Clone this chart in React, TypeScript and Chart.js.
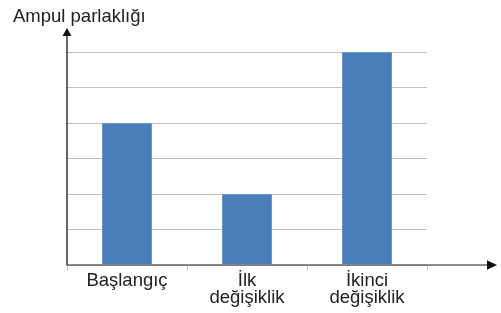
import React, { useEffect, useRef } from "react";
import { Chart, registerables } from "chart.js";

Chart.register(...registerables);

const categories: (string | string[])[] = ["Başlangıç", ["İlk", "değişiklik"], ["İkinci", "değişiklik"]];
const brightness: number[] = [4, 2, 6];
const yTitle = "Ampul parlaklığı";
const yMax = 6;

const FONT = "'Liberation Sans', Arial, sans-serif";

const arrowPlugin = {
  id: "arrows",
  afterDraw(chart: any) {
    const { ctx, chartArea } = chart;
    const { left, bottom, top, right } = chartArea;
    ctx.save();
    // y axis
    ctx.strokeStyle = "#333";
    ctx.lineWidth = 1.5;
    ctx.beginPath();
    ctx.moveTo(left, bottom + 0.5);
    ctx.lineTo(left, top - 17);
    ctx.stroke();
    ctx.fillStyle = "#111";
    ctx.beginPath();
    ctx.moveTo(left, top - 24);
    ctx.lineTo(left - 4.5, top - 16);
    ctx.lineTo(left + 4.5, top - 16);
    ctx.closePath();
    ctx.fill();
    // x axis
    ctx.strokeStyle = "#666";
    ctx.lineWidth = 1.5;
    ctx.beginPath();
    ctx.moveTo(left, bottom);
    ctx.lineTo(right + 61, bottom);
    ctx.stroke();
    ctx.fillStyle = "#111";
    ctx.beginPath();
    ctx.moveTo(right + 70, bottom);
    ctx.lineTo(right + 60, bottom - 4.7);
    ctx.lineTo(right + 60, bottom + 4.7);
    ctx.closePath();
    ctx.fill();
    // title
    ctx.fillStyle = "#222";
    ctx.font = `18.5px ${FONT}`;
    ctx.textBaseline = "alphabetic";
    ctx.textAlign = "left";
    ctx.fillText(yTitle, 13, 21.5);
    ctx.restore();
  },
};

export default function App() {
  const ref = useRef<HTMLCanvasElement | null>(null);
  useEffect(() => {
    if (!ref.current) return;
    const chart = new Chart(ref.current, {
      type: "bar",
      data: {
        labels: categories,
        datasets: [
          {
            data: brightness,
            backgroundColor: "#4a7ebb",
            borderColor: "#6b98cc",
            borderWidth: 1,
            categoryPercentage: 1,
            barPercentage: 50 / 120,
          },
        ],
      },
      options: {
        animation: false,
        responsive: false,
        maintainAspectRatio: false,
        layout: { padding: { left: 67, right: 74, top: 52, bottom: 0 } },
        plugins: { legend: { display: false }, tooltip: { enabled: false }, title: { display: false } },
        scales: {
          x: {
            grid: { drawOnChartArea: false, drawTicks: true, tickLength: 6, color: "#c8c8c8", offset: true },
            border: { display: false },
            ticks: {
              color: "#222",
              font: { family: FONT, size: 18.5, lineHeight: 0.9 },
              padding: 2,
              maxRotation: 0,
              autoSkip: false,
            },
            afterFit(scale: any) {
              scale.height = 48;
            },
          },
          y: {
            min: 0,
            max: yMax,
            ticks: { display: false, stepSize: 1 },
            grid: { color: "#c0c0c0", drawTicks: false, lineWidth: 1 },
            border: { display: false },
            afterFit(scale: any) {
              scale.width = 0;
            },
          },
        },
      },
      plugins: [arrowPlugin],
    });
    return () => chart.destroy();
  }, []);
  return (
    <div style={{ position: "absolute", left: 0, top: 0, width: 501, height: 313, background: "#fff" }}>
      <canvas ref={ref} width={501} height={313} style={{ width: 501, height: 313 }} />
    </div>
  );
}
